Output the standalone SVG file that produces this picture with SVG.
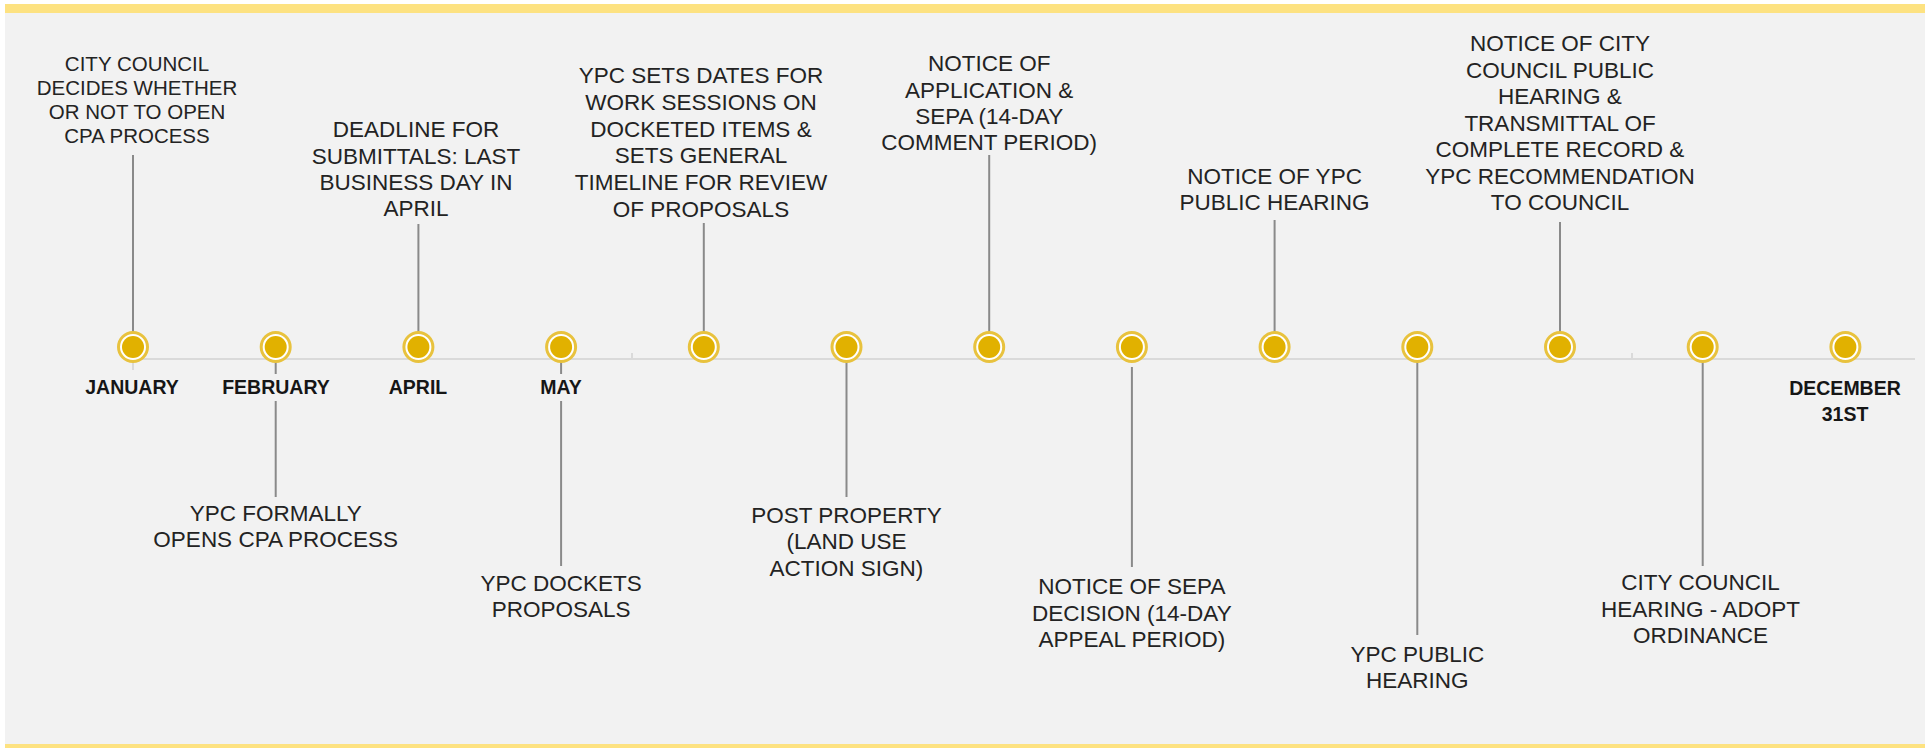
<svg xmlns="http://www.w3.org/2000/svg" width="1931" height="748" viewBox="0 0 1931 748">
<defs>
<style>
.lbl{font-family:"Liberation Sans",Arial,sans-serif;font-size:22.5px;fill:#232323;text-anchor:middle}
.lbl1{font-size:20.5px}
.mon{font-family:"Liberation Sans",Arial,sans-serif;font-size:19.5px;font-weight:bold;fill:#161616;text-anchor:middle}
.conn{stroke:#8a8a8a;stroke-width:2;fill:none}
.axis{stroke:#dadada;stroke-width:2;fill:none}
.ring{fill:#ffffff;stroke:#e8c23e;stroke-width:3}
.dot{fill:#e1b100}
</style>
<g id="marker">
<circle class="ring" cx="0" cy="0" r="14.5"/>
<circle class="dot" cx="0" cy="0" r="11"/>
</g>
</defs>
<rect x="0" y="0" width="1931" height="748" fill="#ffffff"/>
<rect x="5" y="4" width="1920" height="744" fill="#f2f2f2"/>
<rect x="5" y="4" width="1920" height="9" fill="#fde281"/>
<rect x="5" y="744" width="1920" height="4" fill="#fde281"/>

<g id="axis">
<line class="axis" x1="133" y1="359" x2="1915" y2="359"/>
<line class="axis" x1="133" y1="359" x2="133" y2="370"/>
<line class="axis" x1="632" y1="353" x2="632" y2="359"/>
<line class="axis" x1="1632" y1="353" x2="1632" y2="359"/>
</g>

<g id="connectors">
<line class="conn" x1="133" y1="155" x2="133" y2="340"/>
<line class="conn" x1="275.7" y1="361" x2="275.7" y2="374"/>
<line class="conn" x1="275.7" y1="401" x2="275.7" y2="497"/>
<line class="conn" x1="418.4" y1="224" x2="418.4" y2="340"/>
<line class="conn" x1="561.1" y1="361" x2="561.1" y2="374"/>
<line class="conn" x1="561.1" y1="401" x2="561.1" y2="566"/>
<line class="conn" x1="703.8" y1="223" x2="703.8" y2="340"/>
<line class="conn" x1="846.5" y1="361" x2="846.5" y2="497"/>
<line class="conn" x1="989.2" y1="155" x2="989.2" y2="340"/>
<line class="conn" x1="1131.9" y1="367" x2="1131.9" y2="567"/>
<line class="conn" x1="1274.6" y1="220" x2="1274.6" y2="340"/>
<line class="conn" x1="1417.3" y1="361" x2="1417.3" y2="635"/>
<line class="conn" x1="1560" y1="222" x2="1560" y2="340"/>
<line class="conn" x1="1702.7" y1="361" x2="1702.7" y2="566"/>
</g>

<g id="n-january">
<use href="#marker" x="133" y="347"/>
<text class="mon" x="132" y="394">JANUARY</text>
<text class="lbl lbl1" x="137"><tspan x="137" y="71">CITY COUNCIL</tspan><tspan x="137" y="95">DECIDES WHETHER</tspan><tspan x="137" y="119">OR NOT TO OPEN</tspan><tspan x="137" y="143">CPA PROCESS</tspan></text>
</g>

<g id="n-february">
<use href="#marker" x="275.7" y="347"/>
<text class="mon" x="276" y="394">FEBRUARY</text>
<text class="lbl"><tspan x="275.7" y="521">YPC FORMALLY</tspan><tspan x="275.7" y="547">OPENS CPA PROCESS</tspan></text>
</g>

<g id="n-april">
<use href="#marker" x="418.4" y="347"/>
<text class="mon" x="418" y="394">APRIL</text>
<text class="lbl"><tspan x="416" y="137">DEADLINE FOR</tspan><tspan x="416" y="164">SUBMITTALS: LAST</tspan><tspan x="416" y="190">BUSINESS DAY IN</tspan><tspan x="416" y="216">APRIL</tspan></text>
</g>

<g id="n-may">
<use href="#marker" x="561.1" y="347"/>
<text class="mon" x="561" y="394">MAY</text>
<text class="lbl"><tspan x="561.1" y="591">YPC DOCKETS</tspan><tspan x="561.1" y="617">PROPOSALS</tspan></text>
</g>

<g id="n-work-sessions">
<use href="#marker" x="703.8" y="347"/>
<text class="lbl"><tspan x="701" y="83">YPC SETS DATES FOR</tspan><tspan x="701" y="110">WORK SESSIONS ON</tspan><tspan x="701" y="137">DOCKETED ITEMS &amp;</tspan><tspan x="701" y="163">SETS GENERAL</tspan><tspan x="701" y="190">TIMELINE FOR REVIEW</tspan><tspan x="701" y="217">OF PROPOSALS</tspan></text>
</g>

<g id="n-post-property">
<use href="#marker" x="846.5" y="347"/>
<text class="lbl"><tspan x="846.5" y="523">POST PROPERTY</tspan><tspan x="846.5" y="549">(LAND USE</tspan><tspan x="846.5" y="576">ACTION SIGN)</tspan></text>
</g>

<g id="n-notice-application">
<use href="#marker" x="989.2" y="347"/>
<text class="lbl"><tspan x="989.2" y="71">NOTICE OF</tspan><tspan x="989.2" y="97.5">APPLICATION &amp;</tspan><tspan x="989.2" y="124">SEPA (14-DAY</tspan><tspan x="989.2" y="150">COMMENT PERIOD)</tspan></text>
</g>

<g id="n-sepa-decision">
<use href="#marker" x="1131.9" y="347"/>
<text class="lbl"><tspan x="1131.9" y="594">NOTICE OF SEPA</tspan><tspan x="1131.9" y="621">DECISION (14-DAY</tspan><tspan x="1131.9" y="647">APPEAL PERIOD)</tspan></text>
</g>

<g id="n-notice-ypc-hearing">
<use href="#marker" x="1274.6" y="347"/>
<text class="lbl"><tspan x="1274.6" y="184">NOTICE OF YPC</tspan><tspan x="1274.6" y="210">PUBLIC HEARING</tspan></text>
</g>

<g id="n-ypc-hearing">
<use href="#marker" x="1417.3" y="347"/>
<text class="lbl"><tspan x="1417.3" y="662">YPC PUBLIC</tspan><tspan x="1417.3" y="688">HEARING</tspan></text>
</g>

<g id="n-council-notice">
<use href="#marker" x="1560" y="347"/>
<text class="lbl"><tspan x="1560" y="51">NOTICE OF CITY</tspan><tspan x="1560" y="77.5">COUNCIL PUBLIC</tspan><tspan x="1560" y="104">HEARING &amp;</tspan><tspan x="1560" y="130.5">TRANSMITTAL OF</tspan><tspan x="1560" y="157">COMPLETE RECORD &amp;</tspan><tspan x="1560" y="183.5">YPC RECOMMENDATION</tspan><tspan x="1560" y="210">TO COUNCIL</tspan></text>
</g>

<g id="n-council-hearing">
<use href="#marker" x="1702.7" y="347"/>
<text class="lbl"><tspan x="1700.5" y="590">CITY COUNCIL</tspan><tspan x="1700.5" y="617">HEARING - ADOPT</tspan><tspan x="1700.5" y="643">ORDINANCE</tspan></text>
</g>

<g id="n-december">
<use href="#marker" x="1845.4" y="347"/>
<text class="mon"><tspan x="1845" y="395">DECEMBER</tspan><tspan x="1845" y="421">31ST</tspan></text>
</g>
</svg>
